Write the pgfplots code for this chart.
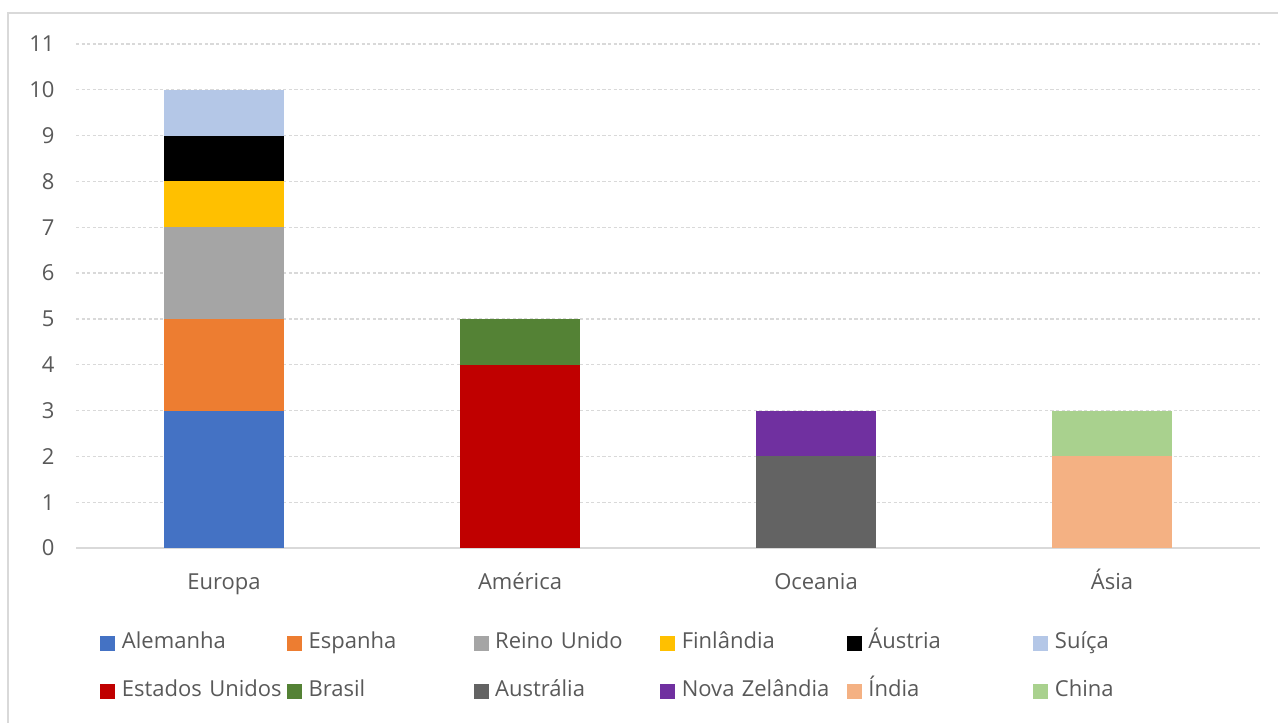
\documentclass[border=0pt]{standalone}
\usepackage{pgfplots}
\pgfplotsset{compat=1.18}
\usepackage{fontspec}
\setmainfont{Open Sans}
\definecolor{txt}{HTML}{595959}
\definecolor{gridc}{HTML}{D9D9D9}
\definecolor{cAle}{HTML}{4472C4}
\definecolor{cEsp}{HTML}{ED7D31}
\definecolor{cRei}{HTML}{A5A5A5}
\definecolor{cFin}{HTML}{FFC000}
\definecolor{cAus}{HTML}{000000}
\definecolor{cSui}{HTML}{B4C7E7}
\definecolor{cEUA}{HTML}{C00000}
\definecolor{cBra}{HTML}{548235}
\definecolor{cAut}{HTML}{636363}
\definecolor{cNZ}{HTML}{7030A0}
\definecolor{cInd}{HTML}{F4B183}
\definecolor{cChi}{HTML}{A9D18E}
\begin{document}
\begin{tikzpicture}
\useasboundingbox (-38pt,-87pt) rectangle (601pt,274pt);
\draw[gridc, line width=0.8pt] (-34pt,-95pt) rectangle (610pt,267.5pt);
\begin{axis}[
  scale only axis,
  width=592pt, height=252pt,
  at={(0,0)}, anchor=south west,
  ybar stacked, bar width=60pt,
  xmin=-0.5, xmax=3.5, ymin=0, ymax=11,
  xtick={0,1,2,3},
  xticklabels={Europa,América,Oceania,Ásia},
  ytick={0,1,...,11},
  axis x line*=bottom,
  axis y line*=left,
  y axis line style={draw=none},
  x axis line style={gridc, line width=0.8pt},
  major tick length=0pt,
  ymajorgrids,
  grid style={gridc, dash pattern=on 1.6pt off 1.2pt, line width=0.6pt},
  tick label style={font=\fontsize{11}{13}\selectfont, text=txt},
  /pgf/number format/assume math mode=true,
  yticklabel style={xshift=-7.2pt},
  xticklabel style={yshift=-9pt, text height=8pt, text depth=2.6pt},
  legend columns=6,
  legend image code/.code={\path[#1, draw=none] (0pt,-3.75pt) rectangle (7.5pt,3.75pt); \path (9.3pt,0pt);},
  legend style={draw=none, fill=none, at={(0.0152,-0.1514)}, anchor=north west,
    font=\fontsize{11}{13}\selectfont, text=txt,
    row sep=9.3pt, column sep=0pt,
    nodes={inner xsep=1.5pt, text height=8pt, text depth=2.6pt, text width=81pt, align=left}},
  legend cell align=left,
  every axis plot/.append style={draw=none},
]
\addplot[fill=cAle] coordinates {(0,3) (1,0) (2,0) (3,0)};
\addlegendentry{Alemanha}
\addplot[fill=cEsp] coordinates {(0,2) (1,0) (2,0) (3,0)};
\addlegendentry{Espanha}
\addplot[fill=cRei] coordinates {(0,2) (1,0) (2,0) (3,0)};
\addlegendentry{Reino Unido}
\addplot[fill=cFin] coordinates {(0,1) (1,0) (2,0) (3,0)};
\addlegendentry{Finlândia}
\addplot[fill=cAus] coordinates {(0,1) (1,0) (2,0) (3,0)};
\addlegendentry{Áustria}
\addplot[fill=cSui] coordinates {(0,1) (1,0) (2,0) (3,0)};
\addlegendentry{Suíça}
\addplot[fill=cEUA] coordinates {(0,0) (1,4) (2,0) (3,0)};
\addlegendentry{\mbox{Estados Unidos}}
\addplot[fill=cBra] coordinates {(0,0) (1,1) (2,0) (3,0)};
\addlegendentry{Brasil}
\addplot[fill=cAut] coordinates {(0,0) (1,0) (2,2) (3,0)};
\addlegendentry{Austrália}
\addplot[fill=cNZ] coordinates {(0,0) (1,0) (2,1) (3,0)};
\addlegendentry{\mbox{Nova Zelândia}}
\addplot[fill=cInd] coordinates {(0,0) (1,0) (2,0) (3,2)};
\addlegendentry{Índia}
\addplot[fill=cChi] coordinates {(0,0) (1,0) (2,0) (3,1)};
\addlegendentry{China}
\end{axis}
\end{tikzpicture}
\end{document}
